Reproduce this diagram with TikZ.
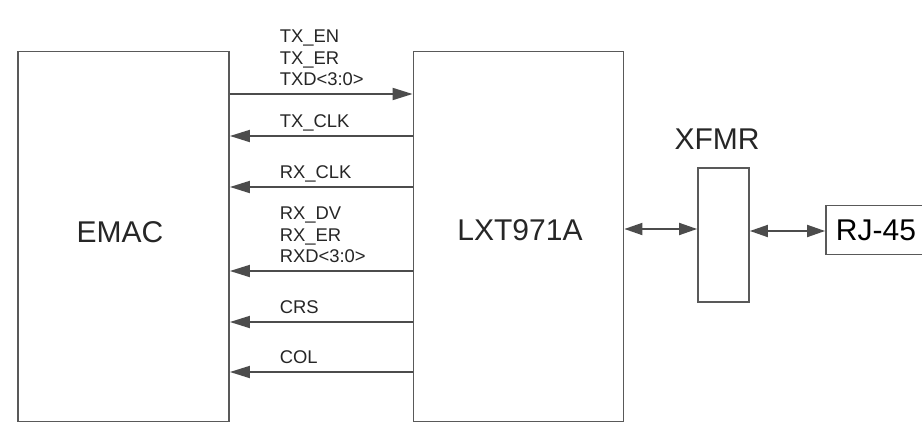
\documentclass[tikz,border=0pt]{standalone}
\usepackage{fontspec}
\setmainfont{Liberation Sans}
\usetikzlibrary{arrows.meta}

\begin{document}
\begin{tikzpicture}[x=0.5pt, y=-0.5pt,
  block/.style={draw=black!65, line width=0.9pt, inner sep=0pt, font=\fontsize{15}{18}\selectfont},
  sig/.style={anchor=south west, align=left, inner sep=0pt, text depth=0pt,
    font=\fontsize{9.2}{10.8}\selectfont, text=black!85, xshift=24.5pt, yshift=3.6pt},
  wire/.style={draw=black!70, line width=0.9pt},
  tip/.style={-{Triangle[length=10pt,width=6pt]}},
  both/.style={{Triangle[length=9pt,width=6pt]}-{Triangle[length=9pt,width=6pt]}}]
\useasboundingbox (0,0) rectangle (922,423);
\clip (0,0) rectangle (922,423);
\fill[white] (0,0) rectangle (922,423);

% Blocks
\node[block, minimum width=105.5pt, minimum height=185pt] (emac) at (123.5,236.5) {};
\node[font=\fontsize{15}{18}\selectfont, text=black!85] (emaclbl) at (120,232) {EMAC};
\node[block, minimum width=105pt, minimum height=185pt] (lxt) at (518.5,236.5) {};
\node[font=\fontsize{15}{18}\selectfont, text=black!85] (lxtlbl) at (520,230) {LXT971A};
\node[block, minimum width=25.5pt, minimum height=67pt] (xfmr) at (723.5,235) {};
\node[font=\fontsize{15}{18}\selectfont, text=black!85] (xfmrlbl) at (717,139) {XFMR};
\node[block, minimum width=50pt, minimum height=24.5pt] (rj) at (876,230) {RJ-45};

% MII signals
\draw[wire, tip] (emac.east |- 0,94) -- (lxt.west |- 0,94)
  node[pos=0, sig] {TX\_EN\\TX\_ER\\TXD<3:0>};
\foreach \y/\txt in {136/TX\_CLK, 187/RX\_CLK, 271/RX\_DV\\RX\_ER\\RXD<3:0>, 322/CRS, 372/COL}
  \draw[wire, tip] (lxt.west |- 0,\y) -- (emac.east |- 0,\y)
    node[pos=1, sig] {\txt};

% Line side
\draw[wire, both] (lxt.east |- 0,229) -- (xfmr.west |- 0,229);
\draw[wire, both] (xfmr.east |- 0,231) -- (rj.west |- 0,231);
\end{tikzpicture}
\end{document}
